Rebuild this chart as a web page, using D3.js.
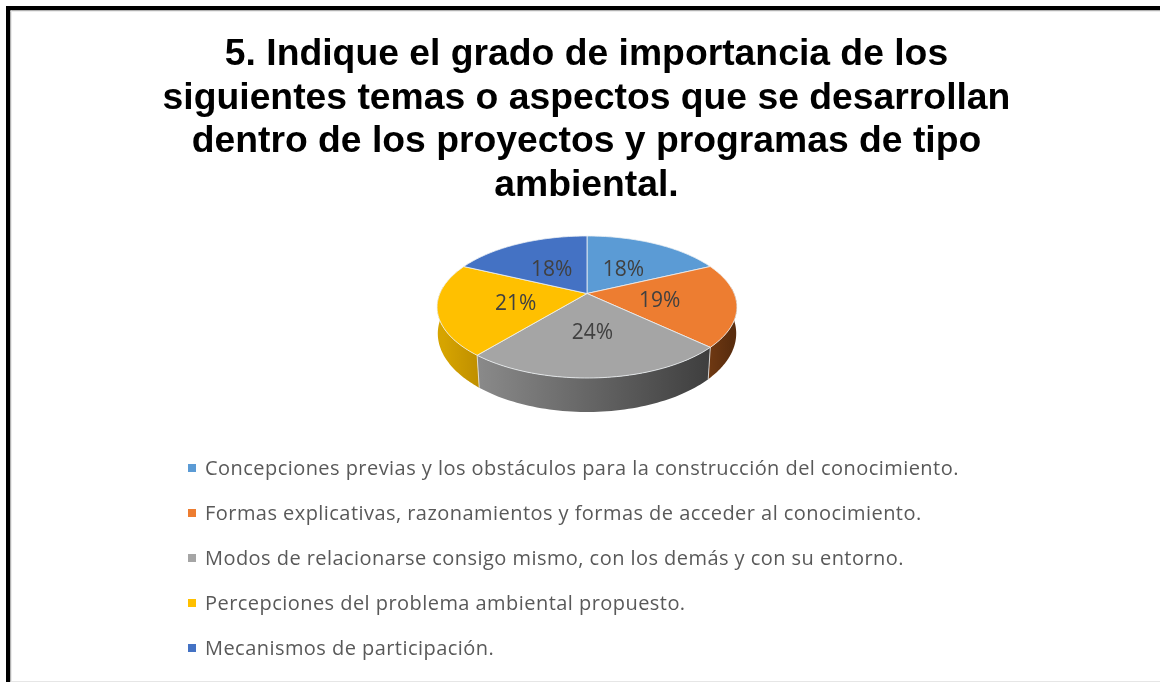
<!DOCTYPE html>
<html><head><meta charset="utf-8">
<script src="https://cdn.jsdelivr.net/npm/d3@7"></script>
<style>html,body{margin:0;padding:0;background:#fff}svg{display:block;filter:blur(0.4px)}</style>
</head><body><svg id="c" width="1160" height="682"></svg>
<script>
const titleLines = ["5. Indique el grado de importancia de los","siguientes temas o aspectos que se desarrollan","dentro de los proyectos y programas de tipo","ambiental."];
const categories = ["Concepciones previas y los obstáculos para la construcción del conocimiento.","Formas explicativas, razonamientos y formas de acceder al conocimiento.","Modos de relacionarse consigo mismo, con los demás y con su entorno.","Percepciones del problema ambiental propuesto.","Mecanismos de participación."];
const values = [18,19,24,21,18];
const colors = ["#5b9bd5","#ed7d31","#a5a5a5","#ffc000","#4472c4"];

const svg = d3.select("#c");
const defs = svg.append("defs");

// frame
svg.append("rect").attr("x",6).attr("y",6).attr("width",1154).attr("height",4.5).attr("fill","#000");
svg.append("rect").attr("x",6).attr("y",6).attr("width",4.5).attr("height",676).attr("fill","#000");
svg.append("rect").attr("x",10.5).attr("y",10.5).attr("width",1149.5).attr("height",1.2).attr("fill","#e4e4e4");
svg.append("rect").attr("x",10.5).attr("y",10.5).attr("width",1.2).attr("height",671).attr("fill","#e4e4e4");
svg.append("rect").attr("x",10.5).attr("y",681).attr("width",1149.5).attr("height",1).attr("fill","#e6e6e6");

// title
svg.append("g").selectAll("text").data(titleLines).join("text")
  .attr("x",586.5).attr("y",(d,i)=>65+i*43.7)
  .attr("text-anchor","middle")
  .attr("font-family","'Liberation Sans',Arial,sans-serif")
  .attr("font-weight","700").attr("font-size",37.3).attr("fill","#000")
  .text(d=>d);

// perspective projection of the pie disc; the lower disc narrows toward the front
const cx=587, cy=293.5, D=5.26, F=774, G=360, depth=33;
const project=(a,r,lower=false)=>{
  const u=Math.sin(a)*r, v=-Math.cos(a)*r;
  const w=D-v;
  const x=F*u/w, y=G*v/w;
  return lower ? [cx+x*(1-0.025*Math.max(v,0)), cy+y+depth*(0.82+0.21*v)] : [cx+x, cy+y];
};
const arcs=d3.pie().sort(null).value(d=>d)(values);
const line=d3.line();
const sample=(a0,a1,r,lower)=>d3.range(0,61).map(i=>project(a0+(a1-a0)*i/60,r,lower));
const topPath=d=>line([[cx,cy],...sample(d.startAngle,d.endAngle,1,false)])+"Z";

// rim: only the part facing the viewer
const rimGrads=[
  null,
  [["0%","#6e3812"],["100%","#5a2d0e"]],
  [["0%","#8a8a8a"],["100%","#3e3e3e"]],
  [["0%","#d6a400"],["100%","#c09000"]],
  null];
arcs.forEach((d,i)=>{
  if(!rimGrads[i])return;
  const s0=Math.max(d.startAngle,Math.PI/2-0.1);
  const s1=Math.min(d.endAngle,3*Math.PI/2+0.1);
  const id="rim"+i;
  const xs=[project(s0,1)[0],project(s1,1)[0]];
  const g=defs.append("linearGradient").attr("id",id).attr("gradientUnits","userSpaceOnUse")
    .attr("x1",d3.min(xs)).attr("x2",d3.max(xs)).attr("y1",0).attr("y2",0);
  rimGrads[i].forEach(s=>g.append("stop").attr("offset",s[0]).attr("stop-color",s[1]));
  const pts=[...sample(s0,s1,1,false),...sample(s1,s0,1,true)];
  svg.append("path").attr("d",line(pts)+"Z").attr("fill",`url(#${id})`);
});
// seams between the visible rim pieces
svg.append("g").selectAll("path").data(arcs.slice(1,3)).join("path")
  .attr("d",d=>line([project(d.endAngle,1,false),project(d.endAngle,1,true)]))
  .attr("stroke","#e8e8e8").attr("stroke-width",0.8).attr("fill","none");

// top face
svg.append("g").selectAll("path").data(arcs).join("path")
  .attr("d",topPath).attr("fill",(d,i)=>colors[i])
  .attr("stroke","#eef1f4").attr("stroke-width",0.8).attr("stroke-linejoin","round");

// value labels
svg.append("g").selectAll("text").data(arcs).join("text")
  .attr("x",d=>project((d.startAngle+d.endAngle)/2,0.49)[0]+0.5)
  .attr("y",d=>project((d.startAngle+d.endAngle)/2,0.49)[1]+3)
  .attr("text-anchor","middle").attr("dominant-baseline","middle")
  .attr("font-family","'Open Sans',sans-serif").attr("font-size",21).attr("fill","#404040")
  .text(d=>d.value+"%");

// legend
const ly=d3.scalePoint().domain(categories).range([468,648]);
const leg=svg.append("g").selectAll("g").data(categories).join("g");
leg.append("rect").attr("x",188).attr("y",d=>ly(d)-4).attr("width",8).attr("height",8)
  .attr("fill",(d,i)=>colors[i]);
leg.append("text").attr("x",205).attr("y",d=>ly(d)+7)
  .attr("font-family","'Open Sans',sans-serif").attr("font-size",20).attr("letter-spacing",0.45).attr("fill","#595959")
  .text(d=>d);
</script></body></html>
